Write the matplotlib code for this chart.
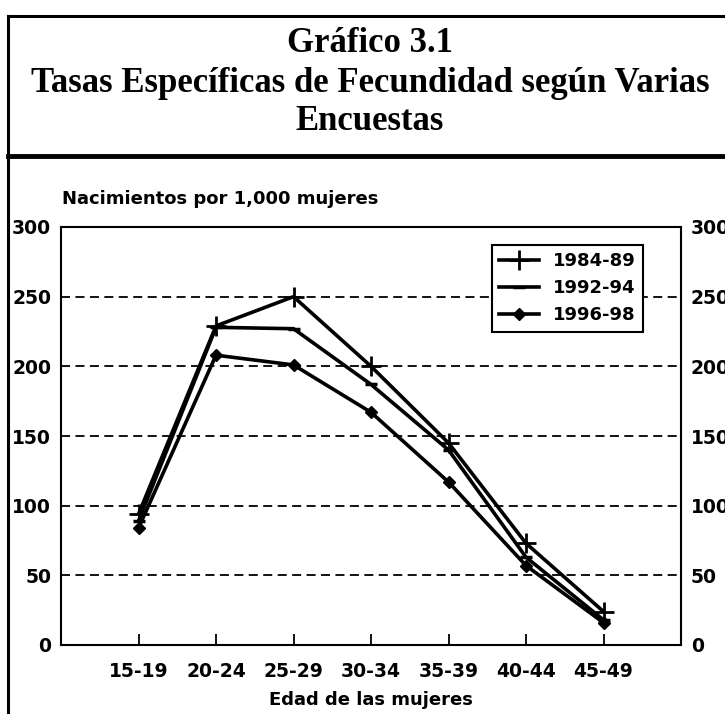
import numpy as np
import matplotlib
matplotlib.use("Agg")
from matplotlib import pyplot as plt
from matplotlib.lines import Line2D

# data
edades = ["15-19", "20-24", "25-29", "30-34", "35-39", "40-44", "45-49"]
s_8489 = [94, 229, 250, 200, 145, 73, 24]
s_9294 = [89, 228, 227, 187, 140, 63, 18]
s_9698 = [84, 208, 201, 167, 117, 57, 16]
yticks = [0, 50, 100, 150, 200, 250, 300]

W = 725.0
fig = plt.figure(figsize=(7.25, 7.25), dpi=100)

def fx(px):
    return px / W

def fy(py):
    return 1 - py / W

# outer frame lines (figure pixels)
fig.add_artist(Line2D([fx(8), fx(8)], [fy(16), fy(712)], color="black", lw=2.2))
fig.add_artist(Line2D([fx(8), 1.0], [fy(16), fy(16)], color="black", lw=2.2))
fig.add_artist(Line2D([fx(8), 1.0], [fy(156), fy(156)], color="black", lw=3.5))

# title
tfont = dict(family="Liberation Serif", weight="bold", color="black", ha="center", va="center")
fig.text(fx(370), fy(44), "Gráfico 3.1", fontsize=25, **tfont)
fig.text(fx(370), fy(83), "Tasas Específicas de Fecundidad según Varias", fontsize=25, **tfont)
fig.text(fx(370), fy(121), "Encuestas", fontsize=25, **tfont)

# axes
ax = fig.add_axes([fx(61), fy(645), fx(681) - fx(61), fy(227) - fy(645)])
x = np.arange(len(edades))

ax.plot(x, s_8489, color="black", lw=2.6, marker="+", ms=15, mew=2, label="1984-89", zorder=3)
ax.plot(x, s_9294, color="black", lw=2.6, marker="_", ms=9, mew=2.5, label="1992-94", zorder=3)
ax.plot(x, s_9698, color="black", lw=2.6, marker="D", ms=6, label="1996-98", zorder=3)

ax.set_xlim(-1, 7)
ax.set_ylim(0, 300)
ax.set_xticks(x)
ax.set_xticklabels(edades)
ax.set_yticks(yticks)
for yv in yticks[1:-1]:
    ax.axhline(yv, color="black", lw=1.3, ls=(0, (5, 3)), zorder=1)

for s in ax.spines.values():
    s.set_linewidth(1.5)
    s.set_color("black")

ax.tick_params(axis="x", direction="in", length=8, width=1.3, pad=12, labelsize=13.5)
ax.tick_params(axis="y", length=0, pad=7, labelsize=13.5, labelright=True)
for lab in ax.get_xticklabels() + ax.get_yticklabels():
    lab.set_fontweight("bold")
    lab.set_family("DejaVu Sans")

fig.text(fx(62), fy(199), "Nacimientos por 1,000 mujeres", fontsize=13, fontweight="bold",
         family="DejaVu Sans", ha="left", va="center")
fig.text(fx(371), fy(700), "Edad de las mujeres", fontsize=13, fontweight="bold",
         family="DejaVu Sans", ha="center", va="center")

leg = ax.legend(loc="upper right", bbox_to_anchor=((643 - 61) / 620.0, (645 - 245) / 418.0),
                borderaxespad=0, fancybox=False, framealpha=1, handlelength=2.2,
                labelspacing=0.5, prop={"family": "DejaVu Sans", "weight": "bold", "size": 13})
leg.get_frame().set_edgecolor("black")
leg.get_frame().set_linewidth(1.5)

fig.savefig("out.png", dpi=100, facecolor="white")
